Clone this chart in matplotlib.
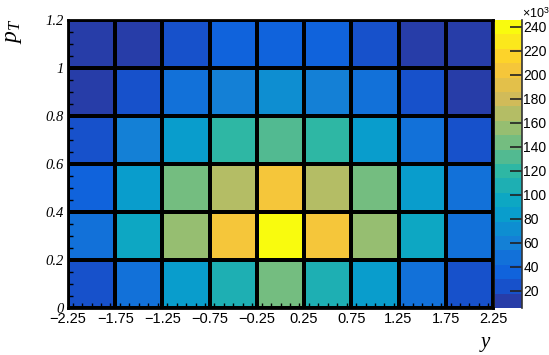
import numpy as np
import matplotlib
matplotlib.use("Agg")
import matplotlib.pyplot as plt
from matplotlib.colors import LinearSegmentedColormap, ListedColormap, Normalize
from matplotlib.ticker import MultipleLocator, FixedLocator

plt.rcParams["mathtext.fontset"] = "custom"
plt.rcParams["mathtext.rm"] = "Liberation Sans"
plt.rcParams["mathtext.it"] = "Liberation Serif:italic"

# bin edges
y_edges = [-2.25, -1.75, -1.25, -0.75, -0.25, 0.25, 0.75, 1.25, 1.75, 2.25]
pt_edges = [0.0, 0.2, 0.4, 0.6, 0.8, 1.0, 1.2]

# counts in thousands, rows from pT=0 (bottom) to pT=1.2 (top)
row_00_02 = [22, 48, 83, 107, 143, 106, 82, 47, 21]
row_02_04 = [45, 96, 154, 206, 245.8, 204, 153, 95, 46]
row_04_06 = [33, 79, 144, 170, 206, 167, 142, 80, 44]
row_06_08 = [21, 57, 82, 118, 131, 117, 80, 46, 20]
row_08_10 = [8, 22, 45, 58, 70, 57, 44, 23, 9]
row_10_12 = [5.8, 9.5, 20, 33, 35, 32, 21, 10, 6.5]

cbar_ticks = [20, 40, 60, 80, 100, 120, 140, 160, 180, 200, 220, 240]

counts = np.array([row_00_02, row_02_04, row_04_06, row_06_08,
                   row_08_10, row_10_12]) * 1e3

# ROOT kBird palette, 20 contour levels
stops = [0.0, 0.125, 0.25, 0.375, 0.5, 0.625, 0.75, 0.875, 1.0]
red = [0.2082, 0.0592, 0.0780, 0.0232, 0.1802, 0.5301, 0.8186, 0.9956, 0.9764]
green = [0.1664, 0.3599, 0.5041, 0.6419, 0.7178, 0.7492, 0.7328, 0.7862, 0.9832]
blue = [0.5293, 0.8684, 0.8385, 0.7914, 0.6425, 0.4662, 0.3499, 0.1968, 0.0539]
bird = LinearSegmentedColormap.from_list(
    "bird", list(zip(stops, zip(red, green, blue))), N=255)
ncont = 20
cmap = ListedColormap([bird(min((i + 0.99) / ncont, 1.0)) for i in range(ncont)])
norm = Normalize(counts.min(), counts.max())

fig = plt.figure(figsize=(5.49, 3.55), dpi=100)
W, H = 549, 355
ax = fig.add_axes([68 / W, 1 - 308 / H, 425 / W, 288 / H])
cax = fig.add_axes([495 / W, 1 - 308 / H, 27 / W, 288 / H])

mesh = ax.pcolormesh(y_edges, pt_edges, counts, cmap=cmap, norm=norm,
                     edgecolors="black", linewidth=1.7)
for s in ax.spines.values():
    s.set_linewidth(2.0)

ax.set_xlim(y_edges[0], y_edges[-1])
ax.set_ylim(pt_edges[0], pt_edges[-1])
ax.xaxis.set_major_locator(FixedLocator(y_edges))
ax.xaxis.set_minor_locator(MultipleLocator(0.1))
ax.yaxis.set_major_locator(FixedLocator(pt_edges))
ax.yaxis.set_minor_locator(MultipleLocator(0.05))
ax.set_xticklabels([("%.2f" % v).replace("-", "\u2212") for v in y_edges],
                   family="Liberation Sans", fontsize=10.5)
ax.set_yticklabels(["0", "0.2", "0.4", "0.6", "0.8", "1", "1.2"],
                   family="Liberation Serif", style="italic", fontsize=10.5)
ax.tick_params(which="major", direction="in", length=0, pad=3)
ax.tick_params(which="minor", direction="in", length=3.5, width=1, color="black")
ax.tick_params(top=False, right=False, which="both")

# axis titles, ROOT style (right aligned at the axis ends)
fig.text(12 / W, 1 - 19 / H, "$p_T$", fontsize=17, rotation=90,
         ha="center", va="top")
fig.text(492 / W, 1 - 347 / H, "$y$", fontsize=15, ha="right", va="baseline")

cb = fig.colorbar(mesh, cax=cax)
cb.outline.set_visible(False)
cb.set_ticks([t * 1e3 for t in cbar_ticks])
cb.set_ticklabels([str(t) for t in cbar_ticks])
cax.tick_params(direction="in", length=9, width=1.2, pad=1, labelsize=10,
                color="#222222")
for lab in cax.get_yticklabels():
    lab.set_family("Liberation Sans")
cax.minorticks_off()
cax.plot([1, 1], [0, 1], transform=cax.transAxes, color="#333333", lw=1.2,
         clip_on=False)
fig.text(522 / W, 1 - 18 / H, "\u00d710$^{3}$", fontsize=9,
         family="Liberation Sans", ha="left", va="baseline")

fig.savefig("out.png", dpi=100)
